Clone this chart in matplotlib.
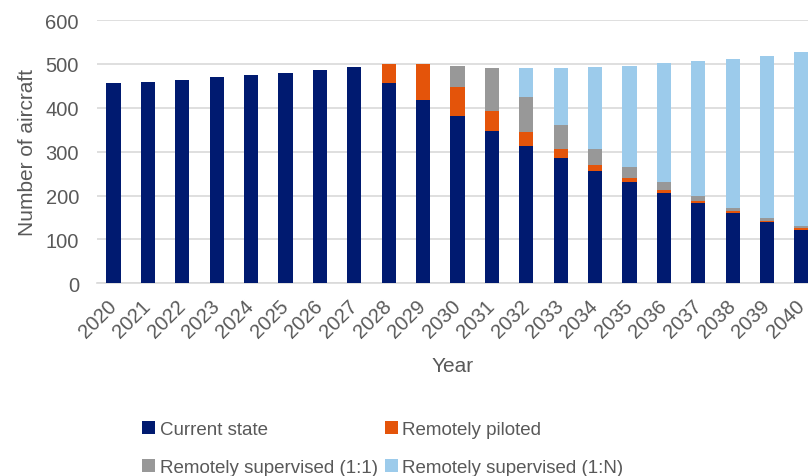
import numpy as np
import matplotlib
matplotlib.use("Agg")
import matplotlib.pyplot as plt

plt.rcParams["font.family"] = ["Liberation Sans", "DejaVu Sans"]

# aircraft fleet by operating mode, 2020-2040
years = [str(y) for y in range(2020, 2041)]
current_state = [457, 459, 464, 470, 475, 480, 487, 492, 457, 417, 381, 347,
                 313, 285, 256, 230, 206, 182, 161, 140, 122]
remotely_piloted = [0, 0, 0, 0, 0, 0, 0, 0, 43, 83, 66, 45,
                    31, 21, 13, 10, 6, 6, 4, 3, 4]
supervised_1to1 = [0, 0, 0, 0, 0, 0, 0, 0, 0, 0, 49, 98,
                   80, 54, 38, 26, 18, 10, 7, 5, 4]
supervised_1toN = [0, 0, 0, 0, 0, 0, 0, 0, 0, 0, 0, 0,
                   66, 130, 186, 229, 271, 308, 339, 371, 397]

labels = ["Current state", "Remotely piloted",
          "Remotely supervised (1:1)", "Remotely supervised (1:N)"]
colors = ["#001A70", "#E4540A", "#989898", "#9CCBEB"]

fig = plt.figure(figsize=(8.08, 4.77), dpi=100)
ax = fig.add_axes([97 / 808, 1 - 284.3 / 477, 1 - 97 / 808, (284.3 - 21) / 477])

x = np.arange(len(years))
w = 0.41
series = [current_state, remotely_piloted, supervised_1to1, supervised_1toN]
bottom = np.zeros(len(years))
handles = []
for vals, lab, col in zip(series, labels, colors):
    vals = np.array(vals, dtype=float)
    h = ax.bar(x, vals, w, bottom=bottom, color=col, label=lab, zorder=3)
    handles.append(h)
    bottom += vals

ax.set_ylim(0, 600)
ax.set_xlim(-0.48, 20.19)
ax.set_yticks(range(0, 601, 100))
ax.set_xticks(x)
ax.set_xticklabels(years, rotation=45, ha="right", va="center",
                   rotation_mode="anchor")
ax.grid(axis="y", color="#D9D9D9", linewidth=1.2, zorder=0)
for s in ["top", "right", "left"]:
    ax.spines[s].set_visible(False)
ax.spines["bottom"].set_color("#D9D9D9")
ax.spines["bottom"].set_linewidth(1.2)
ax.tick_params(axis="y", length=0, pad=13, labelsize=14.5, labelcolor="#595959")
ax.tick_params(axis="x", length=0, pad=14, labelsize=14.5, labelcolor="#595959")

ax.set_ylabel("Number of aircraft", fontsize=15, color="#595959", labelpad=6)
ax.set_xlabel("Year", fontsize=15, color="#595959", labelpad=11)

# reorder so the legend reads row by row
order = [0, 2, 1, 3]
fig.legend([handles[i] for i in order], [labels[i] for i in order],
           ncol=2, loc="upper left", bbox_to_anchor=(131 / 808, 1 - 411 / 477),
           frameon=False, fontsize=13.5, labelcolor="#595959",
           handlelength=0.7, handleheight=0.7, handletextpad=0.25,
           columnspacing=0.35, labelspacing=1.1, borderpad=0.1)

fig.savefig("out.png", dpi=100)
